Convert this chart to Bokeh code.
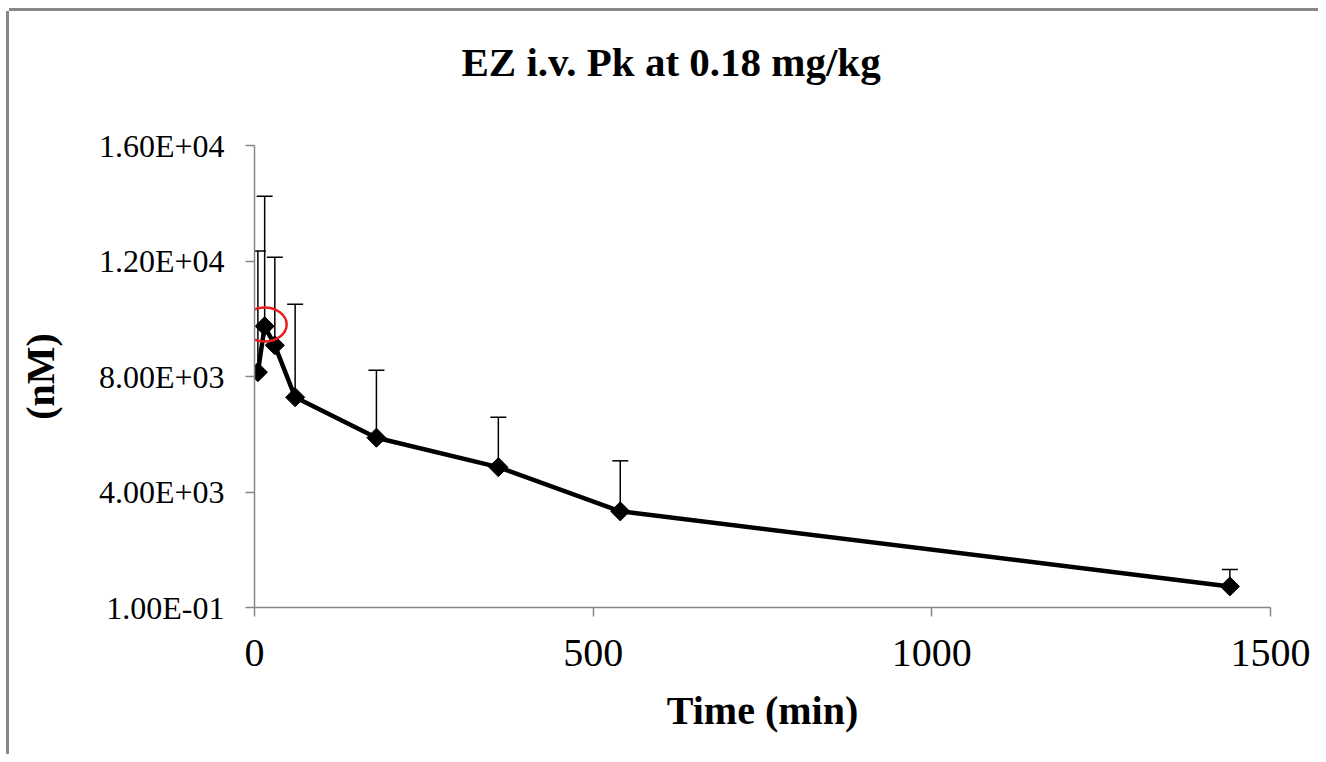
import numpy as np
from bokeh.plotting import figure
from bokeh.models import ColumnDataSource, Range1d, FixedTicker, Whisker, TeeHead, Title
from bokeh.embed import file_html
from bokeh.resources import INLINE

# ---- data ----
time_min = [5, 15, 30, 60, 180, 360, 540, 1440]
conc_nM = [8150, 9740, 9080, 7280, 5880, 4860, 3330, 730]
sd_nM = [4200, 4500, 3050, 3220, 2340, 1730, 1750, 590]
highlight_index = 1

y_ticks = [0.1, 4000, 8000, 12000, 16000]
x_ticks = [0, 500, 1000, 1500]

title_text = "EZ i.v. Pk at 0.18 mg/kg"
x_label = "Time (min)"
y_label = "(nM)"

FONT = "Liberation Serif"
AXIS_GREY = "#868686"

upper = [c + s for c, s in zip(conc_nM, sd_nM)]
src = ColumnDataSource(dict(x=time_min, y=conc_nM, upper=upper))

# canvas placed at page (9, 11); shadows draw the chart-area edge on top/left
W, H = 1309, 743
ML, MR, MT, MB = 245, 48, 134, 147

p = figure(width=W, height=H, output_backend="svg", toolbar_location=None,
           title=None,
           x_range=Range1d(0, 1500), y_range=Range1d(0.1, 16000),
           min_border_left=ML, min_border_right=MR, min_border_top=MT,
           min_border_bottom=MB)
p.styles = {"margin-left": "9px", "margin-top": "11px",
            "box-shadow": "0px -3px 0px 0px #888888, -3px 0px 0px 0px #888888"}
p.outline_line_color = None
p.xgrid.visible = False
p.ygrid.visible = False
p.background_fill_color = "white"
p.border_fill_color = "white"

# title (a small spacer title sits between the main title and the plot area)
p.add_layout(Title(text=" ", text_font=FONT, text_font_size="10px", standoff=43), "above")
p.add_layout(Title(text=title_text, text_font=FONT, text_font_size="41px",
                   text_font_style="bold", text_color="black", align="left",
                   offset=207, standoff=10), "above")

# axes
p.xaxis.ticker = FixedTicker(ticks=x_ticks)
p.yaxis.ticker = FixedTicker(ticks=y_ticks)
p.yaxis.major_label_overrides = {v: f"{v:.2E}" for v in y_ticks}
for ax in (p.xaxis[0], p.yaxis[0]):
    ax.axis_line_color = AXIS_GREY
    ax.axis_line_width = 1.5
    ax.major_tick_line_color = AXIS_GREY
    ax.major_tick_line_width = 1.5
    ax.major_tick_in = 0
    ax.major_tick_out = 9
    ax.minor_tick_line_color = None
    ax.major_label_text_font = FONT
    ax.major_label_text_color = "black"
    ax.axis_label_text_font = FONT
    ax.axis_label_text_font_style = "bold"
    ax.axis_label_text_font_size = "40px"
    ax.axis_label_text_color = "black"

p.xaxis.major_label_text_font_size = "40px"
p.yaxis.major_label_text_font_size = "32px"
p.xaxis.major_label_standoff = 23
p.yaxis.major_label_standoff = 21
p.xaxis.axis_label = x_label
p.yaxis.axis_label = y_label
p.xaxis.axis_label_standoff = 19
p.yaxis.axis_label_standoff = 33

# error bars (upper only)
wh = Whisker(base="x", lower="y", upper="upper", source=src, dimension="height",
             line_color="black", line_width=1.5,
             upper_head=TeeHead(size=16, line_color="black", line_width=1.5),
             lower_head=None, level="underlay")
p.add_layout(wh)

# line and diamonds
p.line("x", "y", source=src, line_color="black", line_width=4.5)
p.scatter("x", "y", source=src, marker="square", size=13.5, angle=np.pi / 4,
          fill_color="black", line_color="black")

# red highlight ellipse around the highlighted point
p.ellipse(x=[time_min[highlight_index]], y=[conc_nM[highlight_index] + 60],
          width=44, height=34, width_units="screen", height_units="screen",
          fill_color=None, line_color="#e8201c", line_width=2.5)

open("out.html", "w").write(file_html(p, INLINE))
